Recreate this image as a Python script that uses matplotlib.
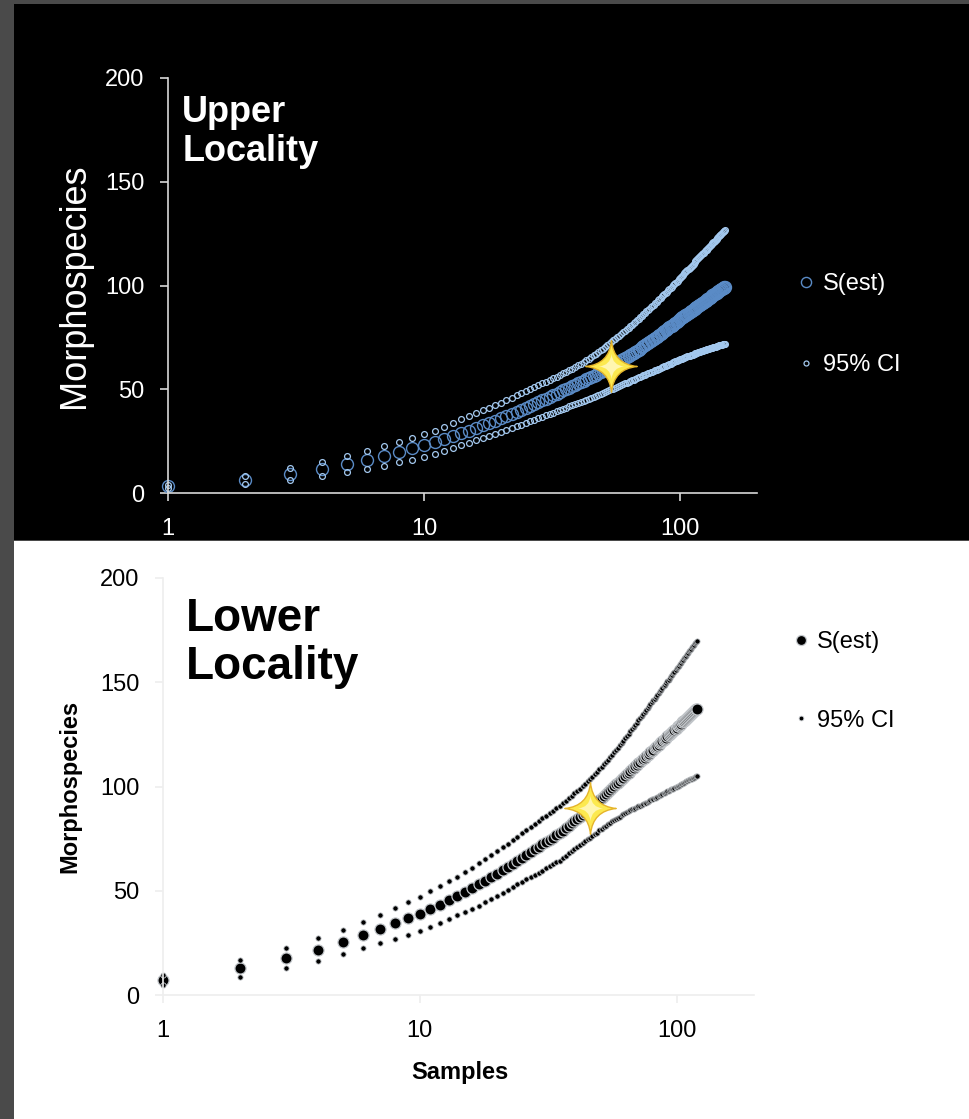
import matplotlib.pyplot as plt
from matplotlib.path import Path
from matplotlib.patches import Rectangle
from matplotlib.ticker import NullLocator

plt.rcParams['font.family'] = ['Liberation Sans', 'DejaVu Sans']

# Upper locality: estimated richness and 95% CI, samples 1..150
upper_sest = [
    3.2, 6.3, 9.0, 11.5, 13.8, 15.9, 17.9, 19.8, 21.5, 23.1,
    24.6, 26.0, 27.4, 28.8, 30.1, 31.4, 32.6, 33.8, 34.9, 36.0,
    37.0, 38.0, 39.0, 40.0, 41.0, 41.9, 42.8, 43.7, 44.6, 45.5,
    46.3, 47.1, 47.9, 48.7, 49.4, 50.1, 50.8, 51.5, 52.1, 52.8,
    53.4, 54.0, 54.7, 55.3, 55.9, 56.5, 57.1, 57.7, 58.3, 58.9,
    59.5, 60.0, 60.6, 61.1, 61.7, 62.2, 62.8, 63.3, 63.9, 64.4,
    64.9, 65.5, 66.0, 66.5, 67.1, 67.6, 68.1, 68.6, 69.1, 69.6,
    70.2, 70.7, 71.2, 71.7, 72.2, 72.6, 73.1, 73.6, 74.1, 74.6,
    75.1, 75.6, 76.0, 76.5, 77.0, 77.5, 77.9, 78.4, 78.9, 79.4,
    79.8, 80.3, 80.7, 81.2, 81.6, 82.1, 82.6, 83.0, 83.5, 83.9,
    84.3, 84.6, 85.0, 85.3, 85.7, 86.0, 86.4, 86.8, 87.1, 87.5,
    87.8, 88.1, 88.5, 88.8, 89.2, 89.5, 89.8, 90.1, 90.5, 90.8,
    91.1, 91.4, 91.8, 92.1, 92.4, 92.7, 93.0, 93.3, 93.6, 93.9,
    94.2, 94.5, 94.8, 95.2, 95.5, 95.7, 96.0, 96.3, 96.6, 96.9,
    97.2, 97.5, 97.7, 98.0, 98.3, 98.5, 98.8, 99.0, 99.3, 99.5,
]
upper_ci_hi = [
    4.0, 8.2, 11.9, 14.9, 17.7, 20.3, 22.6, 24.7, 26.6, 28.4,
    30.0, 32.0, 33.8, 35.5, 37.0, 38.5, 39.8, 41.1, 42.3, 43.5,
    44.7, 45.9, 47.0, 48.1, 49.1, 50.1, 51.1, 52.0, 52.9, 53.7,
    54.6, 55.4, 56.1, 56.9, 57.7, 58.5, 59.2, 60.0, 60.8, 61.6,
    62.4, 63.2, 64.0, 64.8, 65.6, 66.4, 67.1, 67.9, 68.7, 69.5,
    70.3, 71.1, 71.9, 72.7, 73.5, 74.3, 75.1, 75.8, 76.6, 77.4,
    78.2, 78.9, 79.7, 80.4, 81.2, 81.9, 82.6, 83.3, 84.0, 84.8,
    85.4, 86.1, 86.8, 87.5, 88.2, 88.9, 89.5, 90.2, 90.8, 91.5,
    92.1, 92.8, 93.4, 94.0, 94.7, 95.3, 95.9, 96.5, 97.1, 97.7,
    98.3, 98.9, 99.5, 100.1, 100.7, 101.2, 101.8, 102.4, 102.9, 103.5,
    104.1, 104.6, 105.2, 105.8, 106.4, 106.9, 107.4, 108.0, 108.5, 109.1,
    109.6, 110.1, 110.6, 111.1, 111.6, 112.1, 112.6, 113.1, 113.6, 114.1,
    114.5, 115.0, 115.5, 115.9, 116.4, 116.9, 117.3, 117.8, 118.2, 118.7,
    119.1, 119.5, 119.9, 120.4, 120.8, 121.2, 121.6, 122.1, 122.5, 122.9,
    123.3, 123.7, 124.1, 124.5, 124.9, 125.3, 125.7, 126.1, 126.5, 126.8,
]
upper_ci_lo = [
    2.3, 4.5, 6.5, 8.3, 10.0, 11.7, 13.2, 14.7, 16.1, 17.5,
    18.9, 20.4, 21.8, 23.1, 24.3, 25.4, 26.5, 27.5, 28.4, 29.3,
    30.3, 31.2, 32.1, 32.9, 33.7, 34.5, 35.3, 36.0, 36.7, 37.4,
    38.0, 38.7, 39.3, 39.9, 40.5, 41.1, 41.7, 42.3, 42.9, 43.4,
    43.9, 44.5, 45.0, 45.5, 46.0, 46.4, 46.9, 47.4, 47.8, 48.3,
    48.7, 49.1, 49.5, 49.9, 50.3, 50.7, 51.2, 51.6, 52.0, 52.4,
    52.8, 53.1, 53.5, 53.9, 54.3, 54.6, 55.0, 55.3, 55.7, 56.0,
    56.3, 56.7, 57.0, 57.3, 57.6, 57.9, 58.2, 58.5, 58.8, 59.1,
    59.4, 59.7, 60.0, 60.3, 60.6, 60.8, 61.1, 61.4, 61.6, 61.9,
    62.2, 62.4, 62.7, 62.9, 63.2, 63.4, 63.7, 63.9, 64.1, 64.4,
    64.6, 64.8, 65.0, 65.2, 65.4, 65.6, 65.8, 66.0, 66.2, 66.4,
    66.6, 66.7, 66.9, 67.1, 67.3, 67.5, 67.6, 67.8, 68.0, 68.1,
    68.3, 68.4, 68.6, 68.7, 68.9, 69.0, 69.2, 69.3, 69.4, 69.6,
    69.7, 69.8, 70.0, 70.1, 70.2, 70.4, 70.5, 70.6, 70.7, 70.8,
    70.9, 71.1, 71.2, 71.3, 71.4, 71.5, 71.6, 71.7, 71.8, 71.9,
]

# Lower locality: estimated richness and 95% CI, samples 1..120
lower_sest = [
    7.3, 12.8, 17.6, 21.7, 25.4, 28.7, 31.7, 34.3, 36.7, 39.0,
    41.3, 43.4, 45.5, 47.5, 49.4, 51.2, 53.0, 54.8, 56.5, 58.2,
    59.8, 61.5, 63.0, 64.5, 65.9, 67.3, 68.6, 69.8, 71.0, 72.2,
    73.4, 74.5, 75.5, 76.6, 77.6, 78.8, 80.0, 81.2, 82.3, 83.4,
    84.5, 85.5, 86.5, 87.5, 88.5, 89.5, 90.5, 91.5, 92.5, 93.6,
    94.6, 95.5, 96.5, 97.4, 98.3, 99.3, 100.1, 101.0, 101.8, 102.7,
    103.6, 104.3, 105.1, 105.9, 106.7, 107.5, 108.2, 108.9, 109.7, 110.4,
    111.1, 111.8, 112.5, 113.2, 113.9, 114.5, 115.2, 115.8, 116.4, 117.1,
    117.7, 118.3, 118.9, 119.5, 120.1, 120.7, 121.3, 121.8, 122.4, 123.0,
    123.5, 124.1, 124.6, 125.1, 125.7, 126.2, 126.7, 127.2, 127.7, 128.2,
    128.8, 129.2, 129.7, 130.2, 130.7, 131.2, 131.6, 132.1, 132.6, 133.0,
    133.5, 133.9, 134.4, 134.8, 135.2, 135.7, 136.1, 136.5, 137.0, 137.4,
]
lower_ci_hi = [
    9.6, 16.8, 22.4, 27.2, 31.2, 34.9, 38.4, 41.6, 44.5, 47.1,
    49.9, 52.3, 54.6, 56.8, 59.0, 61.1, 63.1, 65.0, 67.0, 68.9,
    70.8, 72.6, 74.3, 76.0, 77.6, 79.1, 80.6, 82.0, 83.4, 84.7,
    86.0, 87.2, 88.4, 89.6, 90.7, 92.0, 93.2, 94.4, 95.5, 96.7,
    97.9, 99.0, 100.1, 101.2, 102.4, 103.5, 104.7, 105.9, 107.1, 108.3,
    109.5, 110.6, 111.8, 112.9, 114.1, 115.3, 116.4, 117.5, 118.7, 119.8,
    120.9, 122.0, 123.1, 124.2, 125.3, 126.4, 127.4, 128.5, 129.6, 130.6,
    131.7, 132.8, 133.8, 134.7, 135.7, 136.7, 137.6, 138.6, 139.5, 140.4,
    141.3, 142.2, 143.1, 143.9, 144.8, 145.6, 146.5, 147.3, 148.1, 148.9,
    149.7, 150.5, 151.3, 152.1, 152.8, 153.6, 154.4, 155.1, 155.8, 156.6,
    157.3, 158.0, 158.7, 159.4, 160.1, 160.8, 161.5, 162.2, 162.8, 163.5,
    164.1, 164.8, 165.4, 166.1, 166.7, 167.3, 168.0, 168.6, 169.2, 169.8,
]
lower_ci_lo = [
    4.6, 8.8, 12.8, 16.2, 19.6, 22.5, 25.0, 27.0, 28.9, 30.9,
    32.7, 34.5, 36.4, 38.2, 39.8, 41.3, 42.9, 44.6, 46.0, 47.5,
    48.8, 50.4, 51.7, 53.0, 54.2, 55.5, 56.6, 57.6, 58.6, 59.7,
    60.8, 61.8, 62.6, 63.6, 64.5, 65.6, 66.8, 68.0, 69.1, 70.1,
    71.1, 72.0, 72.9, 73.8, 74.6, 75.5, 76.3, 77.1, 77.9, 78.9,
    79.7, 80.4, 81.2, 81.9, 82.5, 83.3, 83.8, 84.5, 84.9, 85.6,
    86.3, 86.6, 87.1, 87.6, 88.1, 88.6, 89.0, 89.3, 89.8, 90.2,
    90.5, 90.8, 91.2, 91.7, 92.1, 92.3, 92.8, 93.0, 93.3, 93.8,
    94.1, 94.4, 94.7, 95.1, 95.4, 95.8, 96.1, 96.3, 96.7, 97.1,
    97.3, 97.7, 97.9, 98.1, 98.6, 98.8, 99.0, 99.3, 99.6, 99.8,
    100.3, 100.4, 100.7, 101.0, 101.3, 101.6, 101.7, 102.0, 102.4, 102.5,
    102.9, 103.0, 103.4, 103.5, 103.7, 104.1, 104.2, 104.4, 104.8, 105.0,
]

upper_samples = list(range(1, len(upper_sest) + 1))
lower_samples = list(range(1, len(lower_sest) + 1))

# highlighted sampling point on each curve (samples, species)
upper_star = (54, 61.1)
lower_star = (46, 89.5)

# four-pointed sparkle marker
sparkle = Path(
    [(0, 1), (0.09, 0.09), (1, 0), (0.09, -0.09), (0, -1),
     (-0.09, -0.09), (-1, 0), (-0.09, 0.09), (0, 1), (0, 1)],
    [Path.MOVETO, Path.CURVE3, Path.CURVE3, Path.CURVE3, Path.CURVE3,
     Path.CURVE3, Path.CURVE3, Path.CURVE3, Path.CURVE3, Path.CLOSEPOLY])

W, H = 970, 1119
fig = plt.figure(figsize=(W / 100, H / 100), dpi=100, facecolor='#4a4a4a')
fig.add_artist(Rectangle((14 / W, 1 - 540 / H), 956 / W, 536 / H,
                         transform=fig.transFigure, facecolor='black',
                         edgecolor='none', zorder=-10))
fig.add_artist(Rectangle((14 / W, 0), 956 / W, 1 - 541 / H,
                         transform=fig.transFigure, facecolor='white',
                         edgecolor='none', zorder=-10))

ax1 = fig.add_axes([168 / W, 1 - 493 / H, 589 / W, 415 / H])
ax2 = fig.add_axes([163 / W, 1 - 995 / H, 591 / W, 417 / H])


def style_axes(ax, text_color, line_color):
    ax.set_facecolor('none')
    ax.set_xscale('log')
    ax.set_xlim(1, 200)
    ax.set_ylim(0, 200)
    ax.set_xticks([1, 10, 100])
    ax.set_xticklabels(['1', '10', '100'])
    ax.xaxis.set_minor_locator(NullLocator())
    ax.set_yticks([0, 50, 100, 150, 200])
    for side in ['top', 'right']:
        ax.spines[side].set_visible(False)
    for side in ['left', 'bottom']:
        ax.spines[side].set_color(line_color)
        ax.spines[side].set_linewidth(1.2)
    ax.tick_params(direction='out', length=6, width=1.2, color=line_color,
                   labelcolor=text_color, labelsize=17)
    ax.tick_params(axis='y', pad=11)
    ax.tick_params(axis='x', pad=12)


# --- upper locality ---
style_axes(ax1, 'white', '#d8d8d8')
h_s1, = ax1.plot(upper_samples, upper_sest, ls='none', marker='o', ms=8.6,
                 mfc='none', mec='#5a8bc6', mew=1.0, clip_on=False)
h_ci1, = ax1.plot(upper_samples, upper_ci_hi, ls='none', marker='o', ms=4.2,
                  mfc='none', mec='#a3c8ee', mew=0.9, clip_on=False)
ax1.plot(upper_samples, upper_ci_lo, ls='none', marker='o', ms=4.2,
         mfc='none', mec='#a3c8ee', mew=0.9, clip_on=False)
ax1.plot(*upper_star, marker=sparkle, ms=37, mfc='#fce94f', mec='#e5b42a',
         mew=1.0, zorder=5)
ax1.plot(*upper_star, marker=sparkle, ms=18, mfc='#fff6b0', mec='none',
         zorder=6)

ax1.set_ylabel('Morphospecies', color='white', fontsize=26)
ax1.yaxis.label.set_va('center')
ax1.yaxis.set_label_coords(-0.158, 0.5)
ax1.text(0.024, 0.96, 'Upper\nLocality', transform=ax1.transAxes,
         color='white', fontsize=26, fontweight='bold', va='top', ha='left',
         linespacing=1.15)
ax1.legend([h_s1, h_ci1], ['S(est)', '95% CI'], loc='center left',
           bbox_to_anchor=(1.07, 0.405), frameon=False, labelcolor='white',
           fontsize=17, labelspacing=2.5, handlelength=0.7,
           handletextpad=0.35, borderaxespad=0, borderpad=0, markerscale=0.85)

# --- lower locality ---
style_axes(ax2, 'black', '#eeeeee')
h_s2, = ax2.plot(lower_samples, lower_sest, ls='none', marker='o', ms=8.0,
                 mfc='black', mec='#c4c8cc', mew=0.9, clip_on=False)
h_ci2, = ax2.plot(lower_samples, lower_ci_hi, ls='none', marker='o', ms=3.8,
                  mfc='black', mec='#c8ccd0', mew=0.6, clip_on=False)
ax2.plot(lower_samples, lower_ci_lo, ls='none', marker='o', ms=3.8,
         mfc='black', mec='#c8ccd0', mew=0.6, clip_on=False)
ax2.plot(*lower_star, marker=sparkle, ms=37, mfc='#fce94f', mec='#e5b42a',
         mew=1.0, zorder=5)
ax2.plot(*lower_star, marker=sparkle, ms=18, mfc='#fff6b0', mec='none',
         zorder=6)

ax2.set_ylabel('Morphospecies', color='black', fontsize=17, fontweight='bold')
ax2.yaxis.label.set_va('center')
ax2.yaxis.set_label_coords(-0.157, 0.5)
ax2.set_xlabel('Samples', color='black', fontsize=17, fontweight='bold')
ax2.xaxis.label.set_va('center')
ax2.xaxis.set_label_coords(0.502, -0.185)
ax2.text(0.039, 0.955, 'Lower\nLocality', transform=ax2.transAxes,
         color='black', fontsize=33, fontweight='bold', va='top', ha='left',
         linespacing=1.12)
ax2.legend([h_s2, h_ci2], ['S(est)', '95% CI'], loc='center left',
           bbox_to_anchor=(1.065, 0.752), frameon=False, labelcolor='black',
           fontsize=17, labelspacing=2.4, handlelength=0.7,
           handletextpad=0.35, borderaxespad=0, borderpad=0, markerscale=0.9)

fig.savefig('out.png', dpi=100, facecolor=fig.get_facecolor())
